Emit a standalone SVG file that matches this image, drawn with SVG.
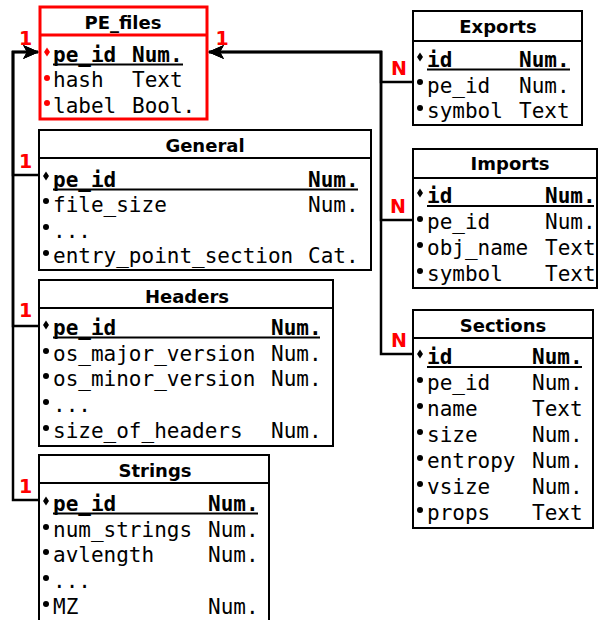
<svg xmlns="http://www.w3.org/2000/svg" width="599" height="620" viewBox="0 0 599 620">
  <style>
    .box { fill: #ffffff; stroke: #000000; stroke-width: 2; }
    .box.main { stroke: #ff0000; stroke-width: 3; }
    .div { stroke: #000000; stroke-width: 2; }
    .main .div { stroke: #ff0000; stroke-width: 3; }
    .title { font-family: "DejaVu Sans", "Liberation Sans", sans-serif; font-weight: bold; font-size: 18px; text-anchor: middle; fill: #000000; }
    .row { font-family: "DejaVu Sans Mono", "Liberation Mono", monospace; font-size: 21px; fill: #000000; }
    .key { font-weight: bold; }
    .ul { stroke: #000000; stroke-width: 2; }
    .dot { fill: #000000; }
    .main .dot { fill: #ff0000; }
    .edge { fill: none; stroke: #000000; stroke-width: 2.5; }
    .card { font-family: "DejaVu Sans", "Liberation Sans", sans-serif; font-weight: bold; font-size: 19px; fill: #ff0000; text-anchor: middle; }
  </style>
  <defs>
    <marker id="arrow" viewBox="0 0 16 14" refX="15" refY="7" markerWidth="16" markerHeight="14" markerUnits="userSpaceOnUse" orient="auto">
      <path d="M0,0 L16,7 L0,14 L4,7 Z" fill="#000000"/>
    </marker>
    <path id="diamond" d="M0,-4.5 L3,0 L0,4.5 L-3,0 Z"/>
  </defs>

  <!-- relationship lines -->
  <g id="connectors">
    <path class="edge" d="M39,175 H13 V52 H38" marker-end="url(#arrow)"/>
    <path class="edge" d="M39,326 H13 V52 H38" marker-end="url(#arrow)"/>
    <path class="edge" d="M39,500 H13 V52 H38" marker-end="url(#arrow)"/>
    <path class="edge" d="M413,82 H381 V52 H209" marker-end="url(#arrow)"/>
    <path class="edge" d="M413,220 H381 V52 H209" marker-end="url(#arrow)"/>
    <path class="edge" d="M413,354 H381 V52 H209" marker-end="url(#arrow)"/>
    <text class="card" x="25.5" y="45">1</text>
    <text class="card" x="222" y="45">1</text>
    <text class="card" x="25.5" y="168">1</text>
    <text class="card" x="25.5" y="317">1</text>
    <text class="card" x="25.5" y="493">1</text>
    <text class="card" x="399" y="75">N</text>
    <text class="card" x="398" y="213">N</text>
    <text class="card" x="399" y="347">N</text>
  </g>

  <!-- PE_files -->
  <g id="pe_files" class="main">
    <rect class="box main" x="40" y="7" width="167" height="112"/>
    <line class="div" x1="40" y1="35" x2="207" y2="35"/>
    <text class="title" x="123" y="29">PE_files</text>
    <use href="#diamond" class="dot" x="47" y="52"/>
    <circle class="dot" cx="47" cy="78" r="3"/>
    <circle class="dot" cx="47" cy="103" r="3"/>
    <text class="row key" x="53" y="62">pe_id</text><text class="row key" x="132" y="62">Num.</text>
    <line class="ul" x1="53" y1="64.5" x2="183" y2="64.5"/>
    <text class="row" x="53" y="87">hash</text><text class="row" x="132" y="87">Text</text>
    <text class="row" x="53" y="113">label</text><text class="row" x="132" y="113">Bool.</text>
  </g>

  <!-- General -->
  <g id="general">
    <rect class="box" x="39" y="130" width="332" height="140"/>
    <line class="div" x1="39" y1="158" x2="371" y2="158"/>
    <text class="title" x="205" y="152">General</text>
    <use href="#diamond" class="dot" x="46" y="176"/>
    <circle class="dot" cx="46" cy="201" r="3"/>
    <circle class="dot" cx="46" cy="227" r="3"/>
    <circle class="dot" cx="46" cy="253" r="3"/>
    <text class="row key" x="53" y="187">pe_id</text><text class="row key" x="308" y="187">Num.</text>
    <line class="ul" x1="53" y1="189.5" x2="358" y2="189.5"/>
    <text class="row" x="53" y="212">file_size</text><text class="row" x="308" y="212">Num.</text>
    <text class="row" x="53" y="238">...</text>
    <text class="row" x="53" y="263">entry_point_section</text><text class="row" x="308" y="263">Cat.</text>
  </g>

  <!-- Headers -->
  <g id="headers">
    <rect class="box" x="39" y="280" width="294" height="166"/>
    <line class="div" x1="39" y1="308" x2="333" y2="308"/>
    <text class="title" x="187" y="303">Headers</text>
    <use href="#diamond" class="dot" x="46" y="325"/>
    <circle class="dot" cx="46" cy="351" r="3"/>
    <circle class="dot" cx="46" cy="376" r="3"/>
    <circle class="dot" cx="46" cy="402" r="3"/>
    <circle class="dot" cx="46" cy="428" r="3"/>
    <text class="row key" x="53" y="335">pe_id</text><text class="row key" x="271" y="335">Num.</text>
    <line class="ul" x1="53" y1="337.5" x2="320" y2="337.5"/>
    <text class="row" x="53" y="361">os_major_version</text><text class="row" x="271" y="361">Num.</text>
    <text class="row" x="53" y="386">os_minor_version</text><text class="row" x="271" y="386">Num.</text>
    <text class="row" x="53" y="412">...</text>
    <text class="row" x="53" y="438">size_of_headers</text><text class="row" x="271" y="438">Num.</text>
  </g>

  <!-- Strings -->
  <g id="strings">
    <rect class="box" x="39" y="455" width="230" height="190"/>
    <line class="div" x1="39" y1="483" x2="269" y2="483"/>
    <text class="title" x="155" y="477">Strings</text>
    <use href="#diamond" class="dot" x="46" y="501"/>
    <circle class="dot" cx="46" cy="527" r="3"/>
    <circle class="dot" cx="46" cy="552" r="3"/>
    <circle class="dot" cx="46" cy="578" r="3"/>
    <circle class="dot" cx="46" cy="604" r="3"/>
    <text class="row key" x="53" y="511">pe_id</text><text class="row key" x="208" y="511">Num.</text>
    <line class="ul" x1="53" y1="513.5" x2="258" y2="513.5"/>
    <text class="row" x="53" y="537">num_strings</text><text class="row" x="208" y="537">Num.</text>
    <text class="row" x="53" y="562">avlength</text><text class="row" x="208" y="562">Num.</text>
    <text class="row" x="53" y="588">...</text>
    <text class="row" x="53" y="614">MZ</text><text class="row" x="208" y="614">Num.</text>
  </g>

  <!-- Exports -->
  <g id="exports">
    <rect class="box" x="413" y="11" width="169" height="114"/>
    <line class="div" x1="413" y1="41" x2="582" y2="41"/>
    <text class="title" x="498" y="33">Exports</text>
    <use href="#diamond" class="dot" x="420" y="57"/>
    <circle class="dot" cx="420" cy="82" r="3"/>
    <circle class="dot" cx="420" cy="108" r="3"/>
    <text class="row key" x="427" y="67">id</text><text class="row key" x="519" y="67">Num.</text>
    <line class="ul" x1="427" y1="69.5" x2="570" y2="69.5"/>
    <text class="row" x="427" y="93">pe_id</text><text class="row" x="519" y="93">Num.</text>
    <text class="row" x="427" y="118">symbol</text><text class="row" x="519" y="118">Text</text>
  </g>

  <!-- Imports -->
  <g id="imports">
    <rect class="box" x="413" y="149" width="184" height="139"/>
    <line class="div" x1="413" y1="178" x2="597" y2="178"/>
    <text class="title" x="510" y="170">Imports</text>
    <use href="#diamond" class="dot" x="420" y="193"/>
    <circle class="dot" cx="420" cy="219" r="3"/>
    <circle class="dot" cx="420" cy="245" r="3"/>
    <circle class="dot" cx="420" cy="271" r="3"/>
    <text class="row key" x="427" y="203">id</text><text class="row key" x="545" y="203">Num.</text>
    <line class="ul" x1="427" y1="206" x2="594" y2="206"/>
    <text class="row" x="427" y="229">pe_id</text><text class="row" x="545" y="229">Num.</text>
    <text class="row" x="427" y="255">obj_name</text><text class="row" x="545" y="255">Text</text>
    <text class="row" x="427" y="281">symbol</text><text class="row" x="545" y="281">Text</text>
  </g>

  <!-- Sections -->
  <g id="sections">
    <rect class="box" x="413" y="310" width="180" height="218"/>
    <line class="div" x1="413" y1="338" x2="593" y2="338"/>
    <text class="title" x="503" y="332">Sections</text>
    <use href="#diamond" class="dot" x="420" y="354"/>
    <circle class="dot" cx="420" cy="380" r="3"/>
    <circle class="dot" cx="420" cy="406" r="3"/>
    <circle class="dot" cx="420" cy="432" r="3"/>
    <circle class="dot" cx="420" cy="458" r="3"/>
    <circle class="dot" cx="420" cy="484" r="3"/>
    <circle class="dot" cx="420" cy="510" r="3"/>
    <text class="row key" x="427" y="364">id</text><text class="row key" x="532" y="364">Num.</text>
    <line class="ul" x1="427" y1="367" x2="582" y2="367"/>
    <text class="row" x="427" y="390">pe_id</text><text class="row" x="532" y="390">Num.</text>
    <text class="row" x="427" y="416">name</text><text class="row" x="532" y="416">Text</text>
    <text class="row" x="427" y="442">size</text><text class="row" x="532" y="442">Num.</text>
    <text class="row" x="427" y="468">entropy</text><text class="row" x="532" y="468">Num.</text>
    <text class="row" x="427" y="494">vsize</text><text class="row" x="532" y="494">Num.</text>
    <text class="row" x="427" y="520">props</text><text class="row" x="532" y="520">Text</text>
  </g>
</svg>
